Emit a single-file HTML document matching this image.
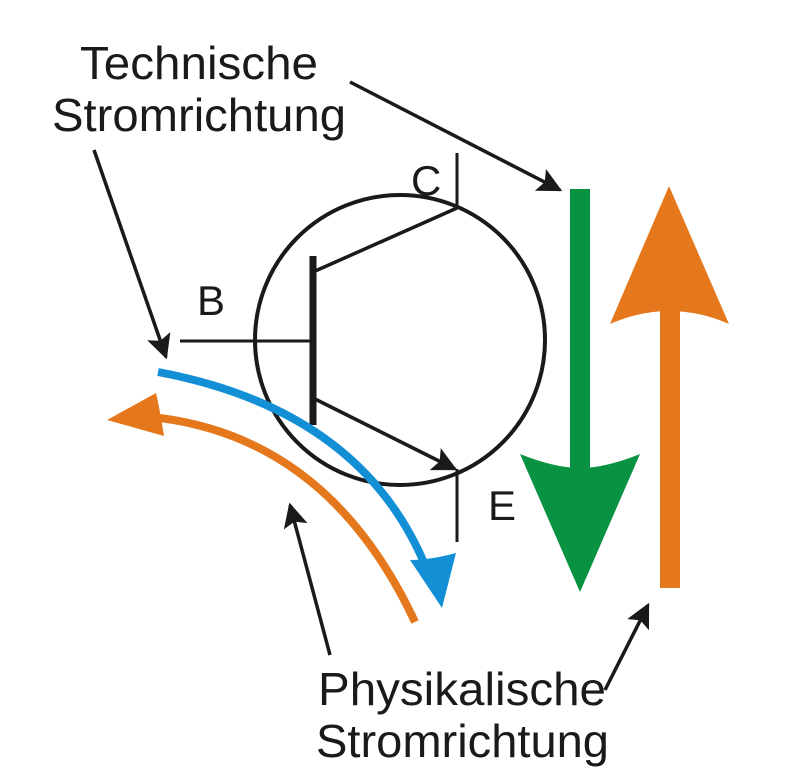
<!DOCTYPE html>
<html><head><meta charset="utf-8"><style>html,body{margin:0;padding:0;background:#fff}svg{display:block}</style></head>
<body>
<svg width="789" height="768" viewBox="0 0 789 768" xmlns="http://www.w3.org/2000/svg">
<defs>
<marker id="ah" viewBox="0 0 10 10" refX="9" refY="5" markerWidth="7" markerHeight="7" markerUnits="strokeWidth" orient="auto"><path d="M0,0 L10,5 L0,10 L2,5 z" fill="#1a1a1a"/></marker>
</defs>
<g font-family="Liberation Sans, Arial, sans-serif" fill="#1a1a1a">
<text x="80" y="79" font-size="46" textLength="238" lengthAdjust="spacingAndGlyphs">Technische</text>
<text x="52" y="131" font-size="46" textLength="294" lengthAdjust="spacingAndGlyphs">Stromrichtung</text>
<text x="318" y="705" font-size="46" textLength="288" lengthAdjust="spacingAndGlyphs">Physikalische</text>
<text x="316" y="757" font-size="46" textLength="293" lengthAdjust="spacingAndGlyphs">Stromrichtung</text>
<text x="411" y="195" font-size="42">C</text>
<text x="197" y="315" font-size="42">B</text>
<text x="488" y="520" font-size="42">E</text>
</g>
<g stroke="#1a1a1a" fill="none">
<circle cx="400" cy="340" r="145" stroke-width="4"/>
<line x1="313" y1="256" x2="313" y2="425" stroke-width="7"/>
<line x1="180" y1="341" x2="313" y2="341" stroke-width="3"/>
<line x1="313" y1="272" x2="457" y2="208" stroke-width="3.5"/>
<line x1="457" y1="153" x2="457" y2="208" stroke-width="3"/>
<line x1="313" y1="398" x2="455" y2="469" stroke-width="3.5" marker-end="url(#ah)"/>
<line x1="457" y1="469" x2="457" y2="542" stroke-width="3"/>
<line x1="350" y1="82" x2="560" y2="190" stroke-width="3.5" marker-end="url(#ah)"/>
<line x1="94" y1="150" x2="166" y2="357" stroke-width="3.5" marker-end="url(#ah)"/>
<line x1="330" y1="655" x2="290" y2="505" stroke-width="3.5" marker-end="url(#ah)"/>
<line x1="605" y1="690" x2="648" y2="605" stroke-width="3.5" marker-end="url(#ah)"/>
</g>
<!-- blue curve -->
<path d="M158,372 Q360,410 425,565" stroke="#138fd6" stroke-width="8" fill="none"/>
<path d="M410,560 Q430,560 456,553 L442,608 Z" fill="#138fd6"/>
<!-- orange curve -->
<path d="M415,622 Q330,440 160,418" stroke="#e5781c" stroke-width="8" fill="none"/>
<path d="M107,420 L156,393 Q160,410 164,436 Z" fill="#e5781c"/>
<!-- green arrow -->
<rect x="570" y="189" width="20" height="280" fill="#089241"/>
<path d="M520,454 Q555,468 580,468 Q605,468 640,454 L580,592 Z" fill="#089241"/>
<!-- orange arrow -->
<rect x="660" y="300" width="20" height="288" fill="#e5781c"/>
<path d="M669,186 L729,324 Q700,311 669,311 Q640,311 610,324 Z" fill="#e5781c"/>
</svg>
</body></html>
